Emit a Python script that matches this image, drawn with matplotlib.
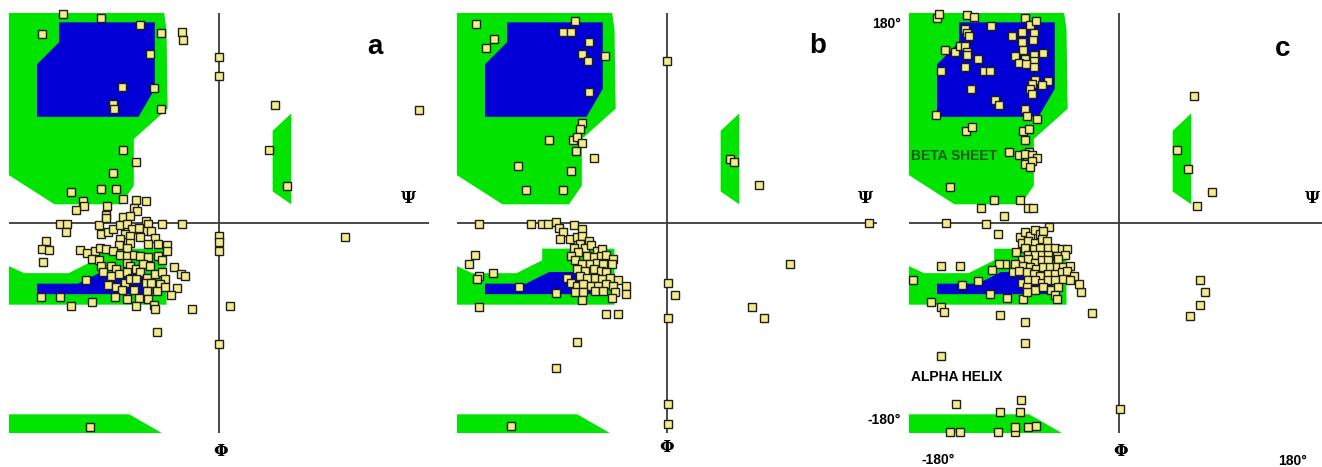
import numpy as np
import matplotlib
matplotlib.use("Agg")
import matplotlib.pyplot as plt
from matplotlib.patches import Polygon

# allowed regions (degrees), same map behind all three panels
beta_green = [(-180, 180), (-47, 180), (-45, 166), (-44, 98), (-73, 72), (-73, 32),
              (-84, 16), (-141, 16), (-180, 41)]
beta_blue = [(-137, 172), (-55, 172), (-55, 115), (-69, 91), (-156, 91), (-156, 136),
             (-137, 155)]
alpha_green = [(-180, -37), (-167, -43), (-129, -43), (-107, -32), (-107, -22), (-45, -22),
               (-45, -70), (-180, -70)]
alpha_blue = [(-156, -52), (-121, -52), (-101, -42), (-75, -42), (-57, -48), (-57, -61),
              (-156, -61)]
bottom_green = [(-180, -164), (-77, -164), (-49, -180), (-180, -180)]
left_green = [(46, 79), (62, 94), (62, 16), (46, 27)]

pts_a = [
    (-134, 179), (-101, 176), (-152, 162), (-68, 170), (-50, 163), (-32, 164), (-31, 157),
    (-59, 145), (0, 142), (0, 126), (-83, 117), (-56, 116), (-91, 102), (-90, 98), (-50, 98),
    (48, 101), (171, 97), (43, 63), (-82, 63), (-71, 52), (-91, 43), (58, 32), (-127, 27),
    (-101, 29), (-88, 29), (-82, 21), (-117, 19), (-116, 15), (-123, 11), (-96, 15), (-71, 20),
    (-63, 19), (0, -11), (0, -16), (0, -24), (108, -12), (9, -71), (0, -104), (-111, -175),
    (-73, 13), (-70, 10), (-97, 7), (-136, -1), (-130, -1), (-131, -8), (-103, -2), (-97, 4),
    (-82, 5), (-76, 6), (-63, 2), (-61, -1), (-49, -1), (-32, -1),
    (-101, -9), (-95, -8), (-91, -5), (-85, -2), (-79, -1), (-75, -5), (-69, -4), (-81, -9),
    (-76, -11), (-62, -7), (-58, -7), (-85, -14), (-68, -12), (-55, -13), (-76, -17), (-86, -19),
    (-79, -21), (-61, -18), (-52, -18), (-45, -19), (-45, -24),
    (-148, -15), (-152, -22), (-146, -23), (-151, -33), (-119, -23), (-113, -26), (-106, -24),
    (-102, -21), (-97, -22), (-109, -31), (-103, -32), (-91, -24), (-85, -27), (-79, -28),
    (-73, -27), (-68, -28), (-61, -29), (-52, -28),
    (-101, -37), (-93, -37), (-88, -39), (-79, -34), (-76, -37), (-71, -39), (-65, -35),
    (-59, -37), (-49, -32), (-39, -38),
    (-99, -42), (-93, -45), (-86, -44), (-79, -42), (-75, -47), (-68, -42), (-62, -47),
    (-55, -44), (-49, -42), (-46, -48), (-33, -44), (-29, -45),
    (-114, -49), (-95, -53), (-88, -55), (-81, -51), (-76, -48), (-71, -48), (-63, -51),
    (-58, -51), (-51, -52), (-46, -55), (-36, -56), (-83, -57), (-73, -57), (-62, -58),
    (-53, -58), (-41, -62),
    (-153, -63), (-136, -63), (-127, -71), (-109, -68), (-89, -63), (-79, -65), (-69, -64),
    (-61, -65), (-71, -71), (-56, -70), (-55, -74), (-23, -74), (-53, -93),
]

pts_b = [
    (-164, 171), (-79, 173), (-89, 164), (-82, 164), (-148, 158), (-155, 150), (-67, 155),
    (-53, 143), (-73, 145), (-68, 139), (-67, 112), (-73, 86), (-75, 81), (-101, 71), (-81, 71),
    (-77, 74), (-73, 69), (-78, 62), (-63, 56), (-128, 49), (-82, 45), (-121, 28), (-89, 28),
    (0, 139), (54, 55), (57, 52), (79, 33), (173, 0), (105, -35), (1, -51), (7, -62), (1, -81),
    (73, -72), (83, -81), (1, -155), (1, -172), (-77, -102), (-95, -124), (-134, -174),
    (-161, -1), (-117, -1), (-107, -1), (-102, -1), (-95, 1), (-80, -2), (-73, -5), (-93, -4),
    (-89, -8), (-92, -14), (-83, -14), (-77, -12), (-73, -11), (-67, -15), (-75, -18), (-80, -21),
    (-70, -21), (-65, -19), (-60, -24), (-56, -22), (-76, -25), (-82, -28), (-69, -28), (-63, -29),
    (-57, -28), (-52, -27), (-46, -31), (-79, -32), (-73, -35), (-66, -35), (-60, -34), (-55, -35),
    (-47, -35), (-77, -39), (-70, -41), (-63, -39), (-57, -41), (-52, -42), (-75, -45), (-69, -47),
    (-62, -47), (-56, -48), (-49, -47), (-42, -49), (-86, -47), (-82, -51), (-77, -54), (-72, -52),
    (-65, -54), (-59, -54), (-52, -52), (-46, -54), (-79, -59), (-72, -59), (-62, -58), (-55, -58),
    (-45, -59), (-35, -54), (-35, -61), (-73, -66), (-47, -64), (-95, -60), (-127, -55),
    (-149, -43), (-165, -27), (-170, -35), (-161, -45), (-163, -48), (-161, -72), (-52, -78),
    (-42, -78),
]

pts_c = [
    (-156, 176), (-154, 179), (-130, 178), (-124, 177), (-81, 176), (-76, 170), (-71, 173),
    (-110, 169), (-132, 166), (-130, 163), (-129, 160), (-83, 164), (-73, 163), (-92, 160),
    (-83, 155), (-74, 157), (-149, 148), (-141, 147), (-136, 152), (-132, 152), (-130, 147),
    (-130, 144), (-121, 141), (-82, 148), (-89, 143), (-81, 141), (-73, 144), (-73, 139),
    (-65, 146), (-132, 134), (-86, 137), (-80, 136), (-73, 134), (-153, 130), (-116, 130),
    (-111, 130), (-127, 115), (-72, 123), (-61, 122), (-75, 119), (-66, 118), (-76, 115),
    (-75, 111), (-106, 105), (-103, 101), (-157, 93), (-81, 98), (-79, 92), (-70, 89),
    (-131, 79), (-126, 82), (-82, 79), (-77, 81), (-81, 71), (-77, 61), (-94, 61), (-86, 58),
    (-81, 59), (-75, 58), (-70, 56), (-81, 51), (-75, 53), (-76, 48), (-145, 31), (-107, 20),
    (-85, 20), (-118, 13), (-78, 13), (-74, 13),
    (64, 109), (50, 63), (59, 46), (80, 27), (67, 15), (69, -49), (74, -59), (69, -70), (61, -80),
    (-23, -77), (-81, -85), (-81, -103), (-153, -114), (-102, -79), (-161, -68), (-153, -72),
    (-150, -76), (-177, -49), (-153, -37), (-136, -37), (-135, -53), (-121, -50), (-111, -61),
    (-96, -64), (-82, -65), (-33, -59), (-34, -52), (-148, 0), (-114, -1), (-99, 6), (-104, -9),
    (-60, -3),
    (-140, -155), (-84, -152), (-102, -162), (-85, -162), (-145, -179), (-136, -179),
    (-104, -179), (-89, -179), (-89, -175), (-78, -175), (-71, -174), (1, -159),
    (-85, -12), (-81, -8), (-76, -11), (-72, -6), (-68, -9), (-65, -7), (-83, -17), (-78, -15),
    (-72, -17), (-66, -14), (-62, -15), (-81, -21), (-73, -22), (-68, -21), (-61, -21), (-55, -21),
    (-49, -22), (-45, -22), (-88, -25), (-78, -27), (-72, -27), (-66, -27), (-61, -27), (-53, -28),
    (-46, -27), (-83, -32), (-78, -31), (-72, -34), (-66, -32), (-61, -32), (-52, -31), (-98, -35),
    (-103, -35), (-109, -40), (-89, -35), (-82, -37), (-76, -38), (-71, -39), (-65, -38),
    (-59, -38), (-53, -38), (-48, -38), (-42, -37), (-91, -42), (-86, -41), (-79, -42), (-73, -44),
    (-68, -45), (-61, -44), (-55, -44), (-49, -42), (-45, -41), (-39, -45), (-83, -51), (-78, -49),
    (-72, -49), (-66, -51), (-61, -49), (-55, -49), (-48, -48), (-42, -49), (-79, -55), (-72, -57),
    (-65, -55), (-58, -57), (-52, -55), (-79, -59), (-55, -62), (-53, -65),
]

panel_letters = ["a", "b", "c"]
letter_pos = [(134, 151), (129, 152), (140, 149)]
psi_pos = [(162, 21), (170, 21), (166, 21)]
phi_pos = [(1, -196), (0, -192), (1, -196)]
panel_left_px = [9, 457, 909]

GREEN = "#00e400"
BLUE = "#0000d6"
W, H = 1322, 467

fig = plt.figure(figsize=(W / 100, H / 100), dpi=100)
fig.patch.set_facecolor("white")

for i, pts in enumerate([pts_a, pts_b, pts_c]):
    ax = fig.add_axes([panel_left_px[i] / W, 34 / H, 420 / W, 420 / H])
    ax.set_xlim(-180, 180)
    ax.set_ylim(-180, 180)
    ax.axis("off")
    ax.patch.set_alpha(0)
    for poly, col in [(beta_green, GREEN), (alpha_green, GREEN), (bottom_green, GREEN),
                      (left_green, GREEN), (beta_blue, BLUE), (alpha_blue, BLUE)]:
        ax.add_patch(Polygon(poly, closed=True, facecolor=col, edgecolor="none", zorder=1))
    ax.axhline(0, color="#3a3a3a", lw=1.3, zorder=2)
    ax.axvline(0, color="#3a3a3a", lw=1.3, zorder=2)
    p = np.array(pts)
    ax.plot(p[:, 0], p[:, 1], "s", ms=5.1, mfc="#f3ec88", mec="#1e1e1e", mew=1.0,
            zorder=3, clip_on=False)
    ax.text(*letter_pos[i], panel_letters[i], fontsize=20, fontweight="bold",
            family="Liberation Sans", ha="center", va="center")
    ax.text(*psi_pos[i], "Ψ", fontsize=12, fontweight="bold", family="DejaVu Serif",
            ha="center", va="center")
    ax.text(*phi_pos[i], "Φ", fontsize=12, fontweight="bold", family="DejaVu Serif",
            ha="center", va="center", clip_on=False)
    if i == 2:
        lab = dict(fontsize=10, fontweight="bold", family="Liberation Sans", clip_on=False)
        ax.text(-187, 171, "180°", ha="right", va="center", **lab)
        ax.text(-187, -169, "-180°", ha="right", va="center", **lab)
        ax.text(-155, -203, "-180°", ha="center", va="center", **lab)
        ax.text(149, -204, "180°", ha="center", va="center", **lab)
        ax.text(-178, 57, "BETA SHEET", color="#1d5a1d", ha="left", va="center",
                fontsize=10, fontweight="bold", family="Liberation Sans")
        ax.text(-178, -132, "ALPHA HELIX", color="black", ha="left", va="center",
                fontsize=10, fontweight="bold", family="Liberation Sans")

fig.savefig("out.png", dpi=100)
